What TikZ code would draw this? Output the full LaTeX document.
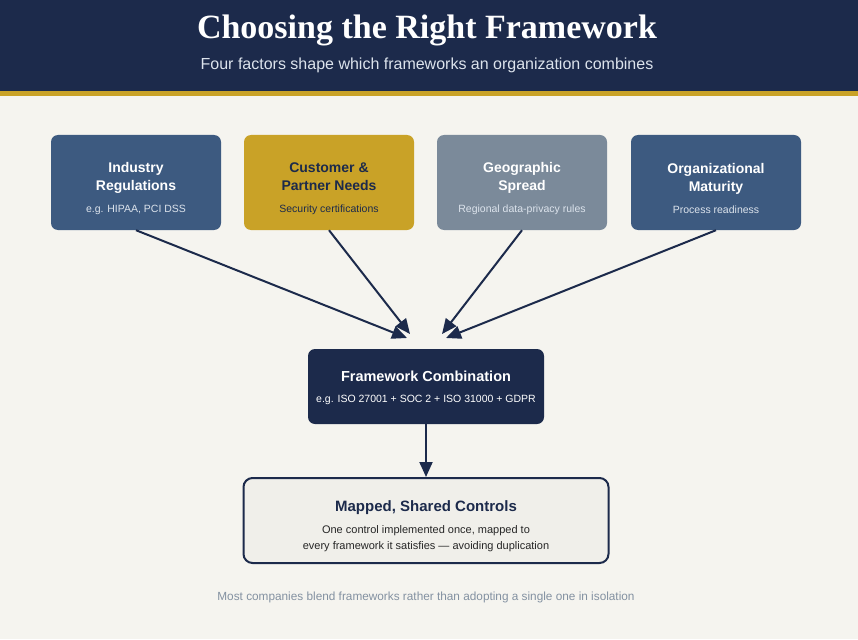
\documentclass[tikz,border=0pt]{standalone}
\usepackage{fontspec}
\setmainfont{Liberation Sans}
\newfontfamily\headfont{Liberation Serif}
\usepackage{tikz}
\usetikzlibrary{arrows.meta, positioning, calc}
\definecolor{navy}{HTML}{1C2A4B}
\definecolor{steel}{HTML}{3D5A80}
\definecolor{gold}{HTML}{C9A227}
\definecolor{slate}{HTML}{7B8A9A}
\definecolor{paper}{HTML}{F5F4EF}
\definecolor{shade}{HTML}{F0EFEA}
\definecolor{pale}{HTML}{DCE3EC}
\definecolor{footgray}{HTML}{8391A1}
\tikzset{
  factor/.style={rounded corners=7pt, minimum width=170pt, minimum height=95pt, align=center, inner sep=0pt,
    font=\fontsize{14}{18}\selectfont\bfseries},
  flow/.style={-{Triangle[length=15pt,width=13pt]}, line width=2pt, draw=navy},
}
\newcommand{\notesize}{\fontsize{10.5}{13}\selectfont\mdseries}
\newcommand{\bodysize}{\fontsize{11}{16}\selectfont\mdseries\color{black!85}}

\begin{document}
\begin{tikzpicture}[x=1pt, y=-1pt]
			\useasboundingbox (0,0) rectangle (858,639);
			\fill[paper] (0,0) rectangle (858,639);
			%% header band
			\fill[navy] (0,0) rectangle (858,91);
			\fill[gold] (0,91) rectangle (858,96);
			\node[white, anchor=base, font=\headfont\fontsize{34}{40}\selectfont\bfseries] (title) at (427,39) {Choosing the Right Framework};
			\node[pale, anchor=base, font=\fontsize{16}{18}\selectfont] (subtitle) at (427,70) {Four factors shape which frameworks an organization combines};
			
			%% four factors
			\node[factor, fill=steel, text=white] (industry) at (136,182.5) {\\[5pt]Industry\\Regulations\\[4pt]\notesize\color{pale}e.g. HIPAA, PCI DSS};
			\node[factor, fill=gold, text=navy] (customer) at (329,182.5) {\\[5pt]Customer \&\\Partner Needs\\[4pt]\notesize Security certifications};
			\node[factor, fill=slate, text=white] (geo) at (522,182.5) {\\[5pt]Geographic\\Spread\\[4pt]\notesize\color{pale}Regional data-privacy rules};
			\node[factor, fill=steel, text=white] (maturity) at (716,182.5) {\\[5pt]Organizational\\Maturity\\[4pt]\notesize\color{pale}Process readiness};
			
			%% combination
			\node[factor, fill=navy, text=white, minimum width=236pt, minimum height=75pt, font=\fontsize{14.5}{18}\selectfont\bfseries] (combo) at (426,386.5) {\\[-5pt]Framework Combination\\[3pt]\notesize e.g. ISO 27001 + SOC 2 + ISO 31000 + GDPR};
			\coordinate (t1) at (407,338);
			\coordinate (t2) at (410,334);
			\coordinate (t3) at (442,334);
			\coordinate (t4) at (446,338);
			\draw[flow] (industry.south) -- (t1);
			\draw[flow] (customer.south) -- (t2);
			\draw[flow] (geo.south) -- (t3);
			\draw[flow] (maturity.south) -- (t4);
			
			%% shared controls
			\node[factor, fill=shade, draw=navy, line width=2pt, rounded corners=9pt, text=navy, minimum width=365pt, minimum height=85pt, font=\fontsize{15}{18}\selectfont\bfseries] (shared) at (426,520.5) {\\[4pt]Mapped, Shared Controls\\[4pt]\bodysize One control implemented once, mapped to\\[-2pt]\bodysize every framework it satisfies --- avoiding duplication};
			\draw[flow] (combo.south) -- (shared.north);
			
			\node[footgray, font=\fontsize{11.8}{14}\selectfont] (footer) at (426,597) {Most companies blend frameworks rather than adopting a single one in isolation};
			\end{tikzpicture}
\end{document}
